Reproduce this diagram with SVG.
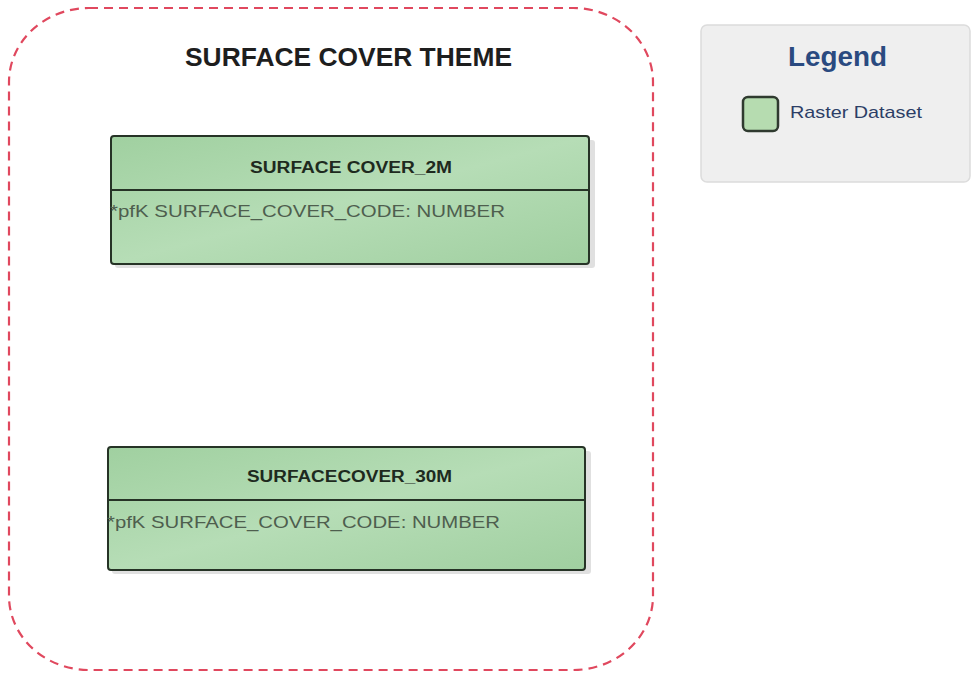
<svg xmlns="http://www.w3.org/2000/svg" width="973" height="675" viewBox="0 0 973 675">
<style>
.title{font-family:"Liberation Sans",Arial,sans-serif;font-weight:bold;font-size:26px;fill:#1e1e1e}
.ename{font-family:"Liberation Sans",Arial,sans-serif;font-weight:bold;font-size:16px;fill:#1e2a1e}
.attr{font-family:"Liberation Sans",Arial,sans-serif;font-size:17px;fill:#4e5e4e}
.box{fill:url(#g);stroke:#263326;stroke-width:2}
.shadow{fill:#000;opacity:0.12}
.div{stroke:#263326;stroke-width:2}
</style>
<defs>
<linearGradient id="g" x1="0" y1="0" x2="1" y2="1">
<stop offset="0" stop-color="#a0d0a0"/>
<stop offset="0.5" stop-color="#b6ddb6"/>
<stop offset="1" stop-color="#a0cfa0"/>
</linearGradient>
</defs>
<rect width="973" height="675" fill="#fff"/>
<g id="container">
<rect x="9" y="8" width="644" height="662" rx="80" ry="74" fill="none" stroke="#e0485e" stroke-width="2.2" stroke-dasharray="9,6"/>
<text class="title" x="185" y="66" textLength="327" lengthAdjust="spacingAndGlyphs">SURFACE COVER THEME</text>
</g>
<g id="surface_cover_2m">
<rect class="shadow" x="115" y="140" width="480" height="128" rx="3"/>
<rect class="box" x="111" y="136" width="478" height="128" rx="3"/>
<line class="div" x1="111" y1="190" x2="589" y2="190"/>
<text class="ename" x="250" y="173" textLength="202" lengthAdjust="spacingAndGlyphs">SURFACE COVER_2M</text>
<text class="attr" x="110" y="217" textLength="395" lengthAdjust="spacingAndGlyphs">*pfK SURFACE_COVER_CODE: NUMBER</text>
</g>
<g id="surfacecover_30m">
<rect class="shadow" x="112" y="451" width="479" height="123" rx="3"/>
<rect class="box" x="108" y="447" width="477" height="123" rx="3"/>
<line class="div" x1="108" y1="500" x2="585" y2="500"/>
<text class="ename" x="247" y="482" textLength="205" lengthAdjust="spacingAndGlyphs">SURFACECOVER_30M</text>
<text class="attr" x="107" y="528" textLength="393" lengthAdjust="spacingAndGlyphs">*pfK SURFACE_COVER_CODE: NUMBER</text>
</g>
<g id="legend">
<rect x="701" y="25" width="269" height="157" rx="6" fill="#efefef" stroke="#dcdcdc" stroke-width="1.5"/>
<text x="788" y="66" textLength="99" lengthAdjust="spacingAndGlyphs" font-family="Liberation Sans, Arial, sans-serif" font-weight="bold" font-size="27" fill="#2a4a80">Legend</text>
<rect x="743" y="97" width="35" height="34" rx="5" fill="#b6dcb0" stroke="#2f3a2f" stroke-width="2.5"/>
<text x="790" y="118" textLength="132" lengthAdjust="spacingAndGlyphs" font-family="Liberation Sans, Arial, sans-serif" font-size="17" fill="#2c3e66">Raster Dataset</text>
</g>
<g id="connectors"></g>
</svg>
